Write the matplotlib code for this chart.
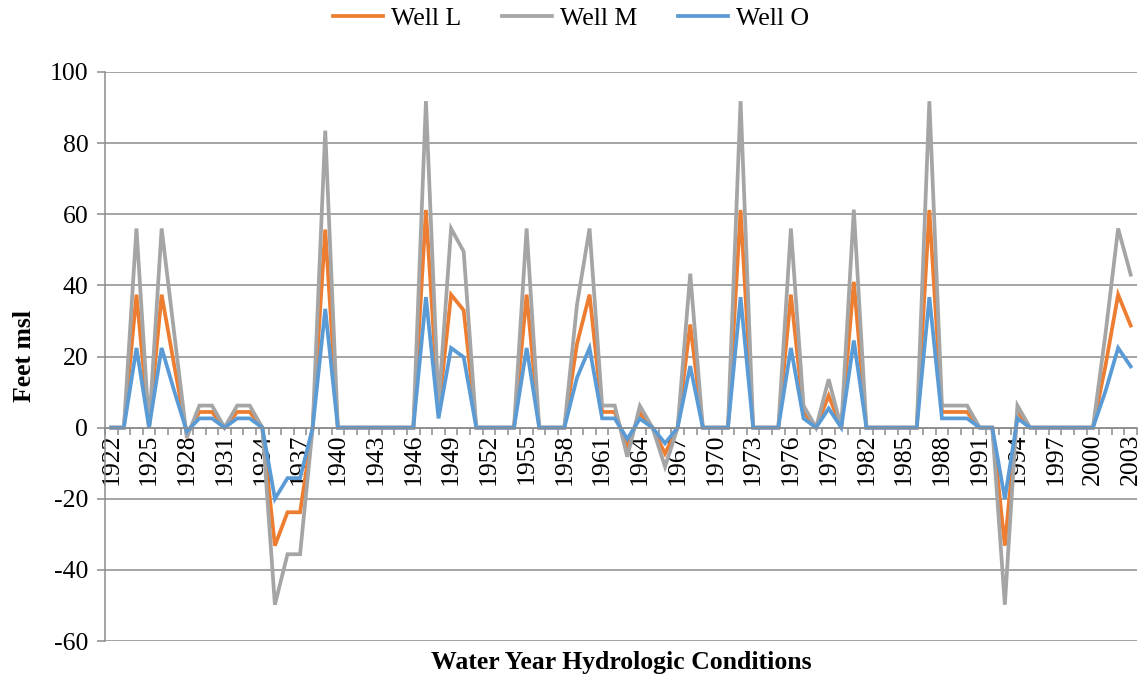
import matplotlib
matplotlib.use('Agg')
import matplotlib.pyplot as plt
from matplotlib.ticker import FixedLocator, MultipleLocator

plt.rcParams['font.family'] = ['Liberation Serif', 'DejaVu Serif']
plt.rcParams['axes.unicode_minus'] = False

# water years 1922-2003
years = list(range(1922, 2004))

well_m = [0, 0, 56, 0, 56, 26.5, -2.8, 6.2, 6.2, 0,
          6.2, 6.2, 0, -49.8, -35.6, -35.6, 0, 83.5, 0, 0,
          0, 0, 0, 0, 0, 91.8, 6.2, 56, 49.5, 0,
          0, 0, 0, 56, 0, 0, 0, 34.5, 56, 6.2,
          6.2, -8.2, 6.1, 0, -11, 0, 43.3, 0, 0, 0,
          91.8, 0, 0, 0, 56, 6.2, 0, 13.6, 0, 61.3,
          0, 0, 0, 0, 0, 91.8, 6.2, 6.2, 6.2, 0,
          0, -49.8, 6.2, 0, 0, 0, 0, 0, 0, 26.5,
          56, 43]
well_l = [0, 0, 37.4, 0, 37.4, 17.5, -1.9, 4.4, 4.4, 0,
          4.4, 4.4, 0, -33.2, -23.8, -23.8, 0, 55.7, 0, 0,
          0, 0, 0, 0, 0, 61.2, 4.4, 37.4, 33, 0,
          0, 0, 0, 37.4, 0, 0, 0, 23.5, 37.4, 4.4,
          4.4, -5.5, 4.1, 0, -7.3, 0, 29, 0, 0, 0,
          61.2, 0, 0, 0, 37.4, 4.4, 0, 9, 0, 41,
          0, 0, 0, 0, 0, 61.2, 4.4, 4.4, 4.4, 0,
          0, -33.2, 4.4, 0, 0, 0, 0, 0, 0, 17.5,
          37.4, 28.7]
well_o = [0, 0, 22.4, 0, 22.4, 10.3, -1.1, 2.6, 2.6, 0,
          2.6, 2.6, 0, -20, -14.2, -14.2, 0, 33.4, 0, 0,
          0, 0, 0, 0, 0, 36.7, 2.6, 22.4, 19.8, 0,
          0, 0, 0, 22.4, 0, 0, 0, 14, 22.4, 2.6,
          2.6, -3.2, 2.5, 0, -4.4, 0, 17.3, 0, 0, 0,
          36.7, 0, 0, 0, 22.4, 2.6, 0, 5.4, 0, 24.5,
          0, 0, 0, 0, 0, 36.7, 2.6, 2.6, 2.6, 0,
          0, -20, 2.6, 0, 0, 0, 0, 0, 0, 10.3,
          22.4, 17.2]

series = [('Well L', well_l, '#ED7D31'),
          ('Well M', well_m, '#A5A5A5'),
          ('Well O', well_o, '#5B9BD5')]

grid_col = '#8C8C8C'

fig = plt.figure(figsize=(11.46, 6.79), dpi=100)
ax = fig.add_axes([105 / 1146, 1 - 641 / 679, (1137 - 105) / 1146, (641 - 72) / 679])

x = list(range(len(years)))
for name, vals, col in series:
    ax.plot(x, vals, color=col, linewidth=2.7, label=name, solid_joinstyle='miter')

ax.set_xlim(-0.5, len(years) - 0.5)
ax.set_ylim(-60, 100)
ax.yaxis.set_major_locator(MultipleLocator(20))
ax.grid(axis='y', color=grid_col, linewidth=1.1)
ax.set_axisbelow(True)

for s in ['top', 'right']:
    ax.spines[s].set_visible(False)
ax.spines['bottom'].set_position(('data', 0))
ax.spines['bottom'].set_color(grid_col)
ax.spines['left'].set_color(grid_col)
ax.spines['bottom'].set_linewidth(1.1)
ax.spines['left'].set_linewidth(1.1)

# labels every third year, tick marks between categories
lab_idx = list(range(0, len(years), 3))
ax.xaxis.set_major_locator(FixedLocator(lab_idx))
ax.set_xticklabels([str(years[i]) for i in lab_idx], rotation=90, va='top')
ax.xaxis.set_minor_locator(FixedLocator([i - 0.5 for i in range(len(years) + 1)]))
ax.tick_params(axis='x', which='major', length=0, pad=4, labelsize=18.5)
ax.tick_params(axis='x', which='minor', length=5, width=1.1, color=grid_col, direction='out')
ax.tick_params(axis='y', which='major', length=6, width=1.1, color=grid_col, labelsize=18.5, pad=6)

ax.set_ylabel('Feet msl', fontsize=18.5, fontweight='bold', labelpad=10)
ax.set_xlabel('Water Year Hydrologic Conditions', fontsize=18.5, fontweight='bold', va='center')
ax.xaxis.set_label_coords(0.5, -0.038)

fig.legend(loc='center', bbox_to_anchor=(571 / 1146, 1 - 19 / 679), ncol=3, frameon=False,
           fontsize=18.5, handlelength=1.95, handletextpad=0.3, columnspacing=1.6)

plt.savefig('out.png', dpi=100)
